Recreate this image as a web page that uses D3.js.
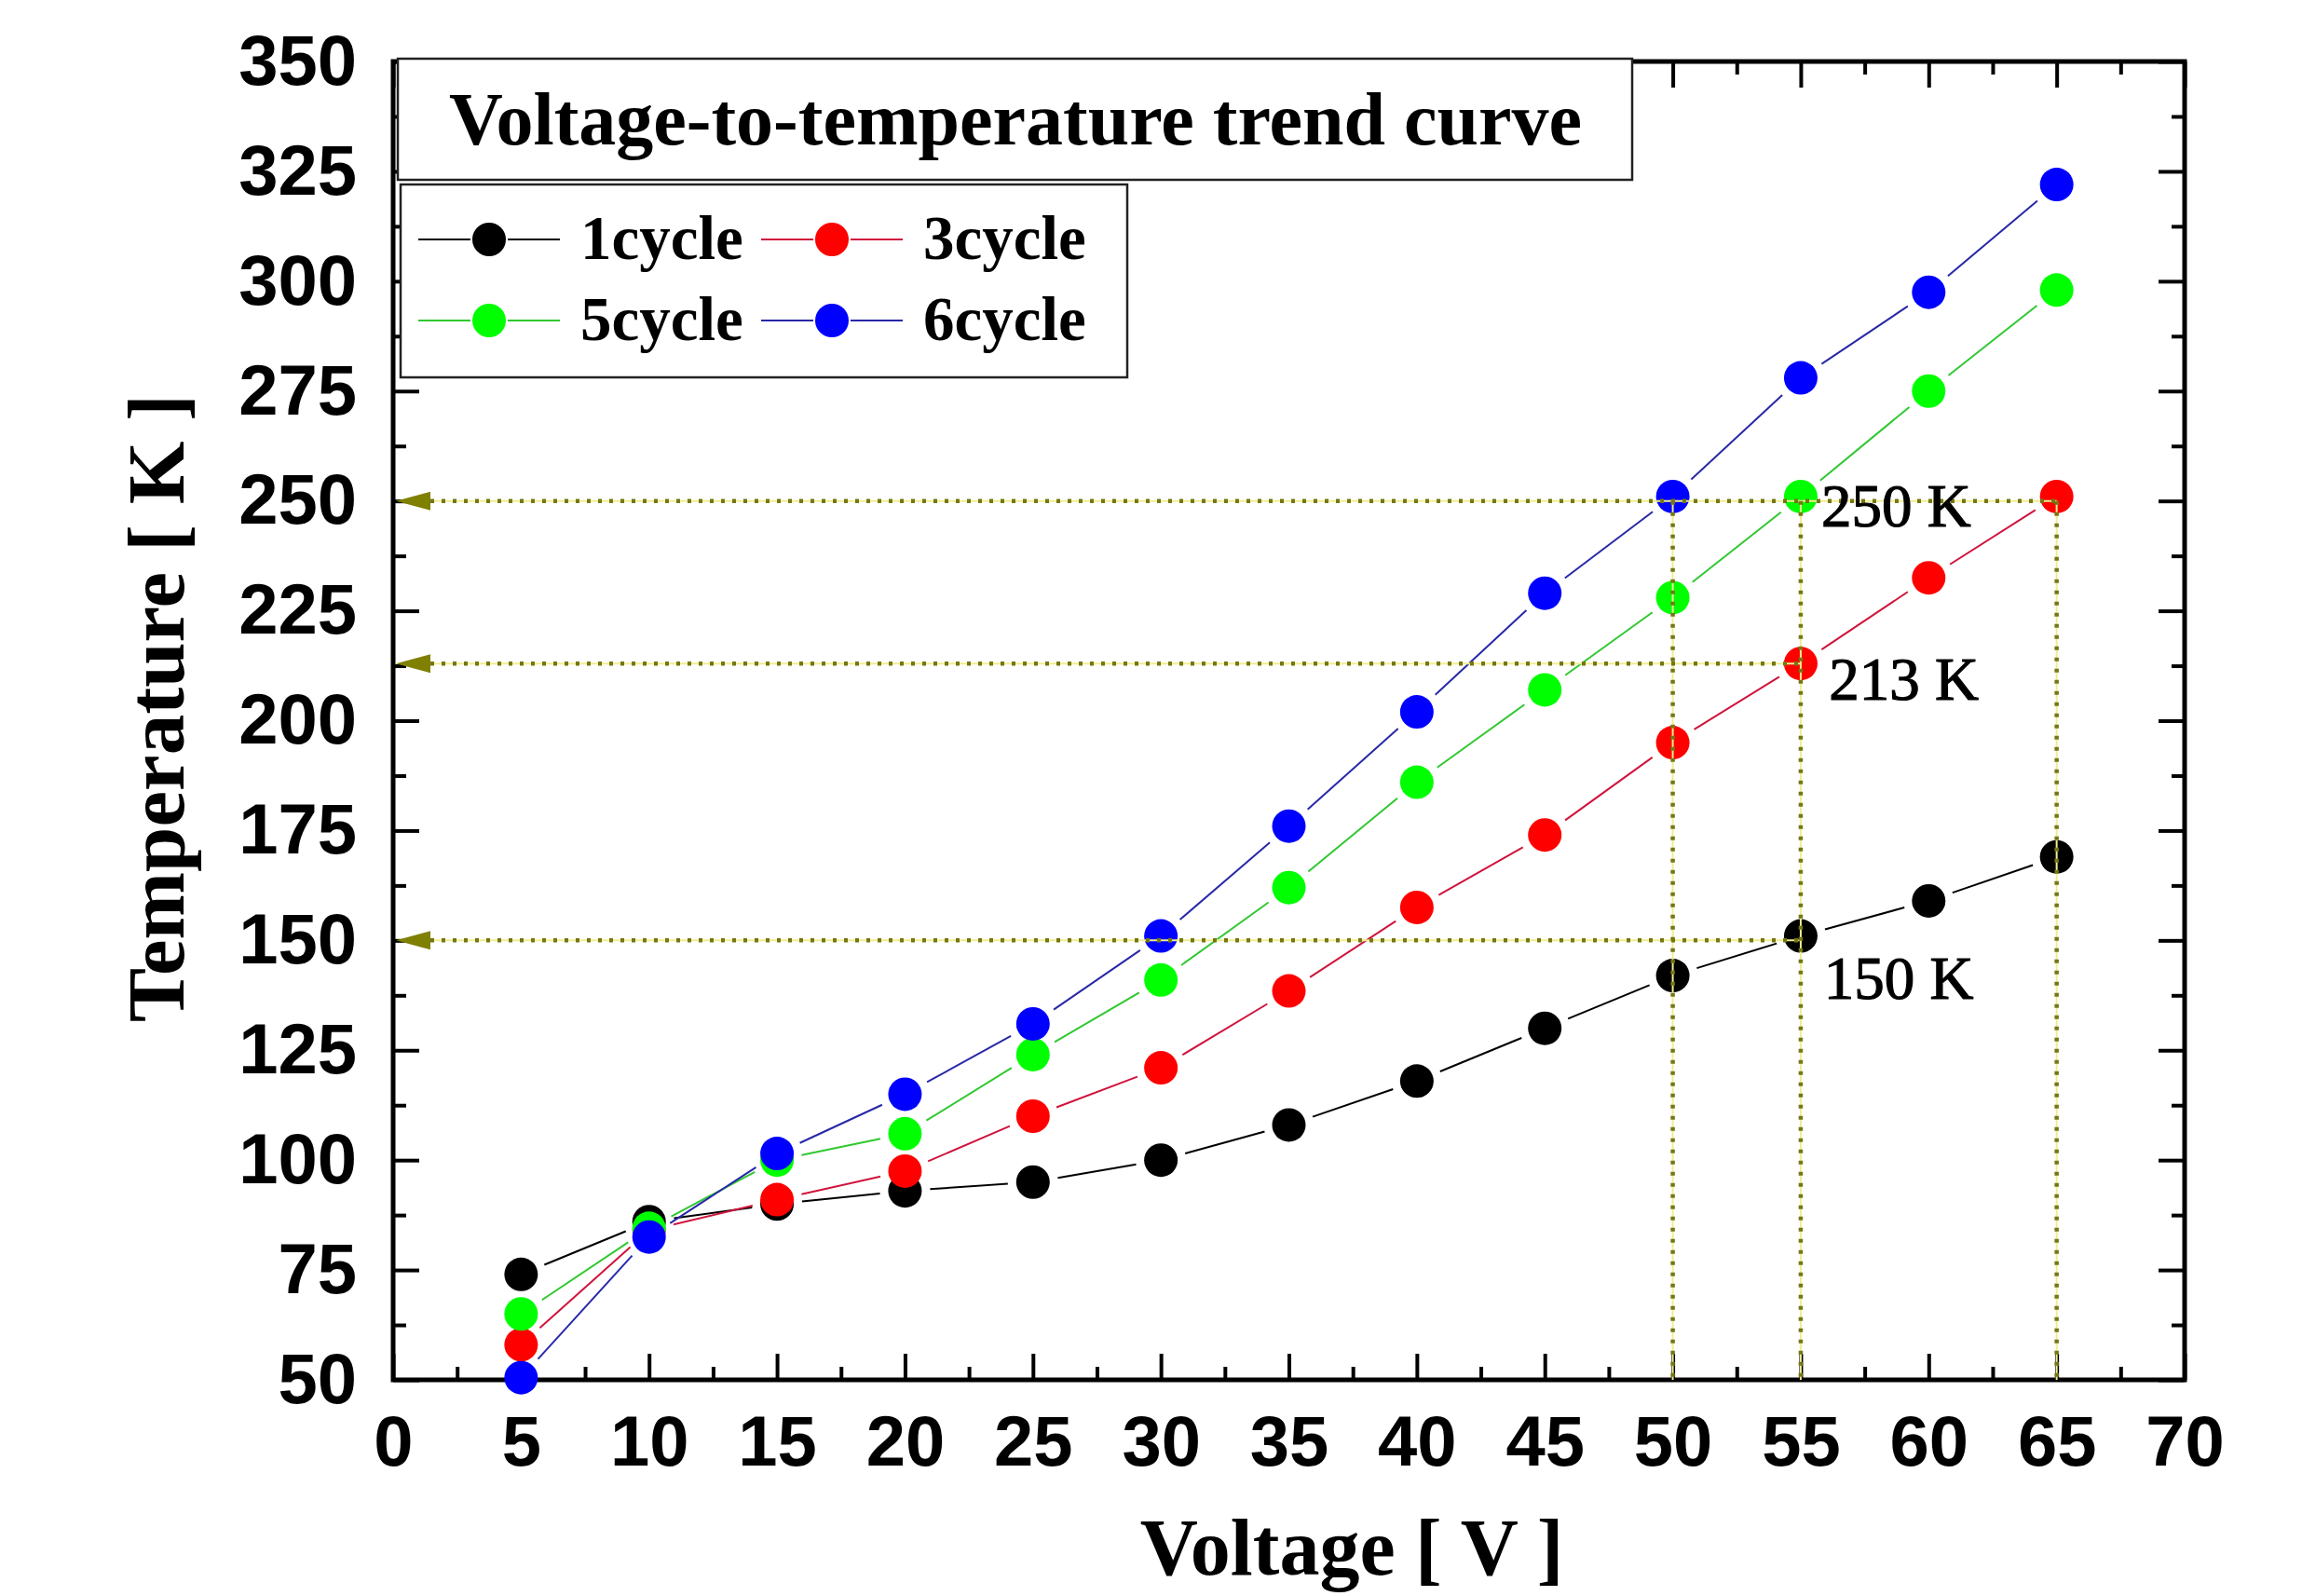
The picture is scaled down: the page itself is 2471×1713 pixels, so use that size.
<!DOCTYPE html>
<html lang="en">
<head>
<meta charset="utf-8">
<title>Voltage-to-temperature trend curve</title>
<script src="https://d3js.org/d3.v7.min.js"></script>
<style>
  body { margin: 0; background: #fff; }
</style>
</head>
<body>
<div id="chart"></div>
<script>
// data
var voltage = [5, 10, 15, 20, 25, 30, 35, 40, 45, 50, 55, 60, 65];
var cycle1 = [74, 86, 90, 93, 95, 100, 108, 118, 130, 142, 151, 159, 169];
var cycle3 = [58, 84, 91, 97.5, 110, 121, 138.5, 157.5, 174, 195, 213, 232.5, 251];
var cycle5 = [65, 84.5, 100, 106, 124, 141, 162, 186, 207, 228, 251, 275, 298];
var cycle6 = [50.5, 82.5, 101.5, 115, 131, 151, 176, 202, 229, 251, 278, 297.5, 322];
var seriesNames = ["1cycle", "3cycle", "5cycle", "6cycle"];
var markerColors = ["#000000", "#ff0000", "#00ff00", "#0000ff"];
var lineColors = ["#000000", "#d0143c", "#30c830", "#2828a8"];

var xTicks = d3.range(0, 71, 5);
var yTicks = d3.range(50, 351, 25);

var refTemps = [250, 213, 150];
var refEndVolt = [65, 55, 55];
var refLabels = ["250 K", "213 K", "150 K"];
var dropVolt = [50, 55, 65];

var W = 2471, H = 1713;
var margin = {top: 66, right: 126, bottom: 232, left: 422},
    width = W - margin.left - margin.right,
    height = H - margin.top - margin.bottom;

var svg = d3.select("#chart").append("svg")
    .attr("width", W).attr("height", H)
    .style("background", "#fff");

var g = svg.append("g")
    .attr("transform", "translate(" + margin.left + "," + margin.top + ")");

var x = d3.scaleLinear().domain([0, 70]).range([0, width]);
var y = d3.scaleLinear().domain([50, 350]).range([height, 0]);

var sans = "'Liberation Sans', Arial, sans-serif";
var serif = "'Liberation Serif', 'Times New Roman', serif";

// minor ticks (inward, all sides)
var xMinor = xTicks.slice(0, -1).map(function(d) { return d + 2.5; });
var yMinor = yTicks.slice(0, -1).map(function(d) { return d + 12.5; });

function styleAxis(sel) {
  sel.selectAll(".domain").remove();
  sel.selectAll(".tick line").attr("stroke", "#000").attr("stroke-width", 4);
  sel.selectAll("text").attr("font-family", sans).attr("font-weight", "bold")
     .attr("font-size", 76).attr("fill", "#000");
}

g.append("g").attr("transform", "translate(0," + height + ")")
  .call(d3.axisBottom(x).tickValues(xTicks).tickSize(-28).tickPadding(38).tickFormat(d3.format("d")))
  .call(styleAxis);
g.append("g").attr("transform", "translate(0," + height + ")")
  .call(d3.axisBottom(x).tickValues(xMinor).tickSize(-14).tickFormat(""))
  .call(styleAxis);
g.append("g")
  .call(d3.axisTop(x).tickValues(xTicks).tickSize(-28).tickFormat(""))
  .call(styleAxis);
g.append("g")
  .call(d3.axisTop(x).tickValues(xMinor).tickSize(-14).tickFormat(""))
  .call(styleAxis);

g.append("g")
  .call(d3.axisLeft(y).tickValues(yTicks).tickSize(-28).tickPadding(39).tickFormat(d3.format("d")))
  .call(styleAxis);
g.append("g")
  .call(d3.axisLeft(y).tickValues(yMinor).tickSize(-14).tickFormat(""))
  .call(styleAxis);
g.append("g").attr("transform", "translate(" + width + ",0)")
  .call(d3.axisRight(y).tickValues(yTicks).tickSize(-28).tickFormat(""))
  .call(styleAxis);
g.append("g").attr("transform", "translate(" + width + ",0)")
  .call(d3.axisRight(y).tickValues(yMinor).tickSize(-14).tickFormat(""))
  .call(styleAxis);

// frame
g.append("rect")
  .attr("x", 0).attr("y", 0).attr("width", width).attr("height", height)
  .attr("fill", "none").attr("stroke", "#000").attr("stroke-width", 5);

// series
var series = [cycle1, cycle3, cycle5, cycle6].map(function(vals, i) {
  return {name: seriesNames[i], color: markerColors[i], line: lineColors[i],
          pts: vals.map(function(v, j) { return [voltage[j], v]; })};
});

var R = 18, GAP = 27;
series.forEach(function(s) {
  var sg = g.append("g");
  // Origin-style segments with a gap round each marker
  for (var j = 0; j < s.pts.length - 1; j++) {
    var x1 = x(s.pts[j][0]), y1 = y(s.pts[j][1]),
        x2 = x(s.pts[j + 1][0]), y2 = y(s.pts[j + 1][1]);
    var len = Math.hypot(x2 - x1, y2 - y1);
    if (len <= 2 * GAP) continue;
    var ux = (x2 - x1) / len, uy = (y2 - y1) / len;
    sg.append("line")
      .attr("x1", x1 + ux * GAP).attr("y1", y1 + uy * GAP)
      .attr("x2", x2 - ux * GAP).attr("y2", y2 - uy * GAP)
      .attr("stroke", s.line).attr("stroke-width", 2);
  }
  sg.selectAll("circle").data(s.pts).enter().append("circle")
    .attr("cx", function(d) { return x(d[0]); })
    .attr("cy", function(d) { return y(d[1]); })
    .attr("r", R)
    .attr("fill", s.color);
});

// reference lines (dotted olive)
function dotted(sel) {
  sel.each(function() {
    var el = d3.select(this);
    el.clone().attr("stroke", "#eeee90").attr("stroke-width", 2).attr("stroke-dasharray", null).lower();
  });
  sel.attr("stroke", "#767614").attr("stroke-width", 4.5).attr("stroke-dasharray", "4,8");
}
var refG = g.append("g");
refTemps.forEach(function(t, i) {
  refG.append("line")
    .attr("x1", x(0) + 40).attr("x2", x(refEndVolt[i]))
    .attr("y1", y(t)).attr("y2", y(t))
    .call(dotted);
  refG.append("path")
    .attr("d", "M" + (x(0) + 3) + "," + y(t) + "L" + (x(0) + 40) + "," + (y(t) - 10) +
               "L" + (x(0) + 40) + "," + (y(t) + 10) + "Z")
    .attr("fill", "#7f7f00");
});
dropVolt.forEach(function(v) {
  refG.append("line")
    .attr("x1", x(v)).attr("x2", x(v))
    .attr("y1", y(250)).attr("y2", y(50))
    .call(dotted);
});

var labelPos = [[55.8, 244.2], [56.1, 204.8], [55.9, 136.7]];
refLabels.forEach(function(lbl, i) {
  g.append("text")
    .attr("x", x(labelPos[i][0])).attr("y", y(labelPos[i][1]))
    .attr("font-family", serif).attr("font-size", 65).attr("fill", "#000")
    .attr("stroke", "#000").attr("stroke-width", 1.2)
    .text(lbl);
});

// title box
svg.append("rect")
  .attr("x", 427).attr("y", 63).attr("width", 1325).attr("height", 130)
  .attr("fill", "#fff").attr("stroke", "#222").attr("stroke-width", 2.5);
svg.append("text")
  .attr("x", 1090).attr("y", 155).attr("text-anchor", "middle")
  .attr("font-family", serif).attr("font-weight", "bold").attr("font-size", 80)
  .text("Voltage-to-temperature trend curve");

// legend box
svg.append("rect")
  .attr("x", 430).attr("y", 198).attr("width", 780).attr("height", 207)
  .attr("fill", "#fff").attr("stroke", "#222").attr("stroke-width", 2.5);

series.forEach(function(s, i) {
  var col = i % 2, row = Math.floor(i / 2);
  var lx = 449 + col * 368, ly = 257 + row * 87;
  var lg = svg.append("g");
  lg.append("line").attr("x1", lx).attr("x2", lx + 56).attr("y1", ly).attr("y2", ly)
    .attr("stroke", s.line).attr("stroke-width", 2);
  lg.append("line").attr("x1", lx + 96).attr("x2", lx + 152).attr("y1", ly).attr("y2", ly)
    .attr("stroke", s.line).attr("stroke-width", 2);
  lg.append("circle").attr("cx", lx + 76).attr("cy", ly).attr("r", R).attr("fill", s.color);
  lg.append("text").attr("x", lx + 174).attr("y", ly + 21)
    .attr("font-family", serif).attr("font-weight", "bold").attr("font-size", 67)
    .text(s.name);
});

// axis titles
svg.append("text")
  .attr("x", 1451).attr("y", 1690).attr("text-anchor", "middle")
  .attr("font-family", serif).attr("font-weight", "bold").attr("font-size", 86)
  .text("Voltage [ V ]");
svg.append("text")
  .attr("transform", "translate(197,760) rotate(-90)")
  .attr("text-anchor", "middle")
  .attr("font-family", serif).attr("font-weight", "bold").attr("font-size", 87)
  .text("Temperature [ K ]");
</script>
</body>
</html>
